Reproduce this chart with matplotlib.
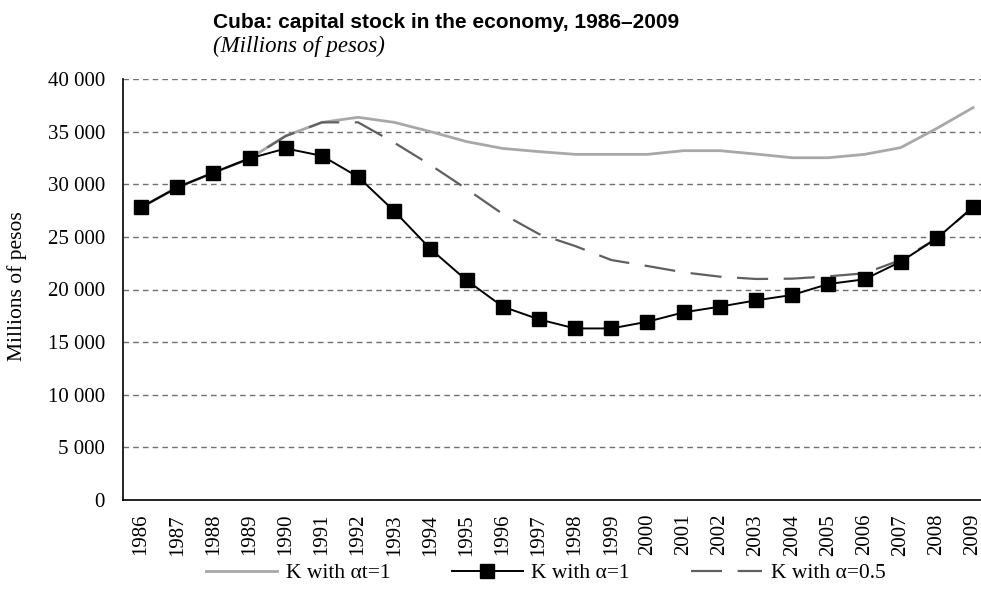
import numpy as np
import matplotlib
matplotlib.use("Agg")
import matplotlib.pyplot as plt

years = list(range(1986, 2010))
k_alpha_t1 = [27800, 29700, 31100, 32450, 34600, 35880, 36360, 35880, 35000, 34050,
              33400, 33100, 32840, 32840, 32840, 33190, 33190, 32870, 32520, 32520,
              32840, 33480, 35310, 37280]
k_alpha1 = [27800, 29700, 31100, 32450, 33400, 32700, 30700, 27450, 23850, 20870,
            18370, 17160, 16300, 16300, 16940, 17830, 18370, 18970, 19480, 20520,
            20970, 22640, 24860, 27840]
k_alpha05 = [27800, 29700, 31100, 32450, 34580, 35880, 35880, 33950, 31830, 29550,
             27170, 25270, 24130, 22800, 22230, 21630, 21220, 21000, 21030, 21250,
             21540, 22800, 24860, 27800]
yticks = [0, 5000, 10000, 15000, 20000, 25000, 30000, 35000, 40000]

serif = "Liberation Serif"
fig = plt.figure(figsize=(9.81, 5.91), dpi=100)
ax = fig.add_axes([123/981, 91/591, 858/981, 421/591])
x = np.arange(len(years))

ax.plot(x, k_alpha_t1, color="#a8a8a8", lw=2, label="K with \u03b1t=1", zorder=3)
ax.plot(x, k_alpha05, color="#606060", lw=1.6, ls=(0, (14, 7)), label="K with \u03b1=0.5", zorder=3)
ax.plot(x, k_alpha1, color="black", lw=1.4, marker="s", ms=10, label="K with \u03b1=1", zorder=4)

ax.set_xlim(-0.5, 23.22)
ax.set_ylim(0, 40000)
ax.set_yticks(yticks)
ax.set_yticklabels([f"{v:,}".replace(",", " ") for v in yticks], fontfamily=serif, fontsize=15)
ax.set_xticks(x)
ax.set_xticklabels([str(y) for y in years], rotation=90, fontfamily=serif, fontsize=15)
ax.tick_params(axis="x", length=0, pad=10)
ax.tick_params(axis="y", length=0, pad=13)
ax.yaxis.grid(True, color="#707070", ls=(0, (4, 3)), lw=1)
ax.set_axisbelow(True)
for s in ["top", "right"]:
    ax.spines[s].set_visible(False)
ax.spines["left"].set_linewidth(1.2)
ax.spines["bottom"].set_linewidth(1.2)

fig.text(17/981, 1 - 286/591, "Millions of pesos", rotation=90, fontfamily=serif,
         fontsize=15.5, ha="center", va="center")

fig.text(213/981, 1 - 22/591, "Cuba: capital stock in the economy, 1986\u20132009",
         fontsize=15, fontweight="bold", fontfamily="Liberation Sans", va="center")
fig.text(213/981, 1 - 46/591, "(Millions of pesos)", fontsize=16.5, fontstyle="italic",
         fontfamily=serif, va="center")

h, l = ax.get_legend_handles_labels()
order = [0, 2, 1]
fig.legend([h[i] for i in order], [l[i] for i in order], loc="center",
           bbox_to_anchor=(546/981, 1 - 573/591), ncol=3, frameon=False,
           prop={"family": serif, "size": 15.5}, handlelength=3.3, columnspacing=2.85,
           handletextpad=0.4)

plt.savefig("out.png", dpi=100)
